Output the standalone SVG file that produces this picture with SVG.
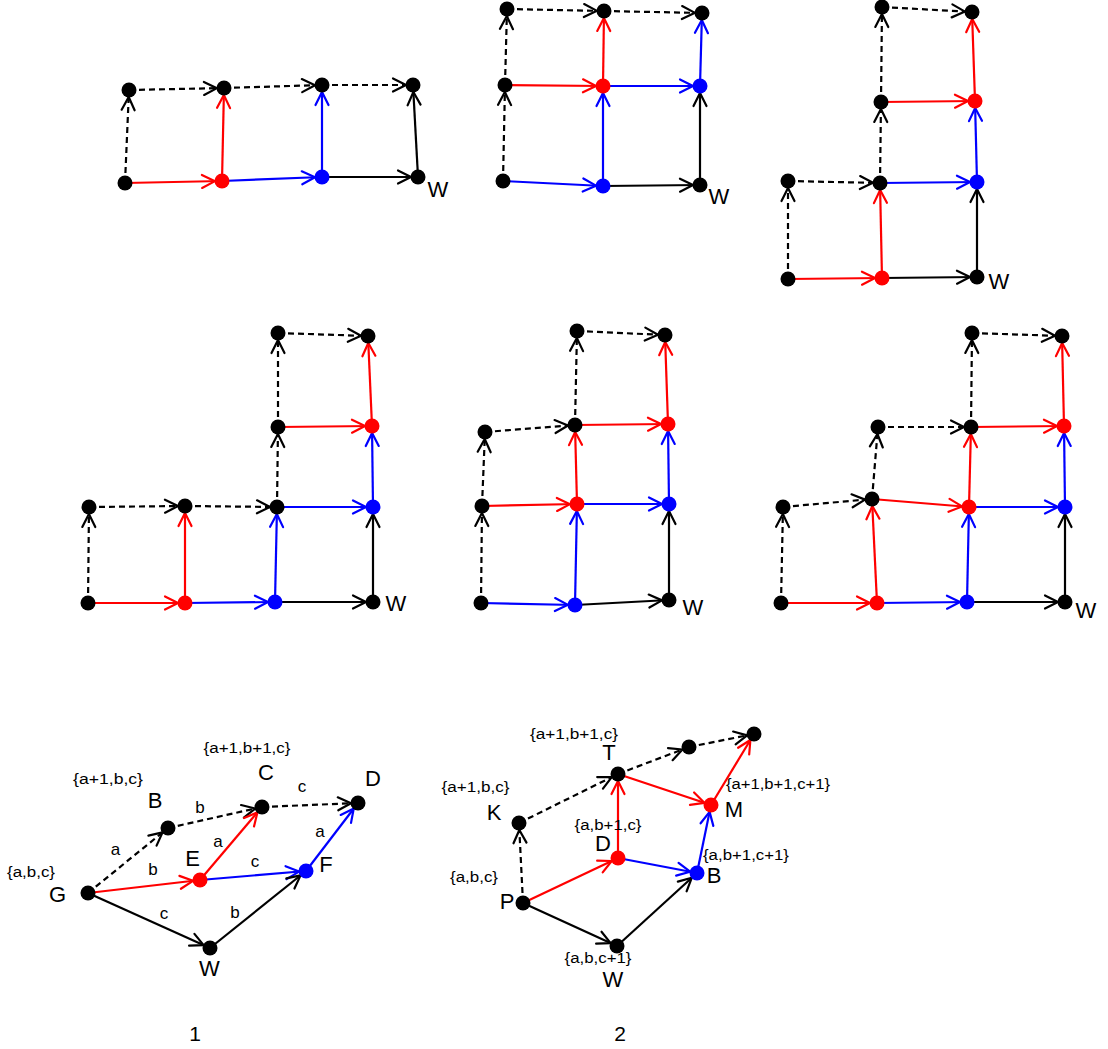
<svg xmlns="http://www.w3.org/2000/svg" width="1108" height="1049" viewBox="0 0 1108 1049">
<style>
text{font-family:"Liberation Sans",Arial,sans-serif;fill:#000;text-anchor:middle}
.lbl{font-size:22px}
.set{font-size:15.5px}
.el{font-size:17px}
.cap{font-size:21px}
line{stroke-width:2.2;fill:none}
.k{stroke:#000;marker-end:url(#ak)}
.kd{stroke:#000;stroke-dasharray:6,4;marker-end:url(#ak)}
.r{stroke:#ff0000;marker-end:url(#ar)}
.b{stroke:#0000ff;marker-end:url(#ab)}
circle{stroke:none}
.nk{fill:#000}
.nr{fill:#ff0000}
.nb{fill:#0000ff}
</style>
<defs>
<marker id="ak" markerUnits="userSpaceOnUse" markerWidth="24" markerHeight="16" refX="20" refY="8" orient="auto" overflow="visible"><path d="M0,1.5 L13,8 L0,14.5" fill="none" stroke="#000" stroke-width="2.2" stroke-dasharray="none" stroke-linecap="round" stroke-linejoin="round"/></marker>
<marker id="ar" markerUnits="userSpaceOnUse" markerWidth="24" markerHeight="16" refX="20" refY="8" orient="auto" overflow="visible"><path d="M0,1.5 L13,8 L0,14.5" fill="none" stroke="#ff0000" stroke-width="2.2" stroke-linecap="round" stroke-linejoin="round"/></marker>
<marker id="ab" markerUnits="userSpaceOnUse" markerWidth="24" markerHeight="16" refX="20" refY="8" orient="auto" overflow="visible"><path d="M0,1.5 L13,8 L0,14.5" fill="none" stroke="#0000ff" stroke-width="2.2" stroke-linecap="round" stroke-linejoin="round"/></marker>
</defs>
<g id="connectors">
<!-- grid 1 -->
<line class="r" x1="125" y1="183" x2="222" y2="181"/>
<line class="b" x1="222" y1="181" x2="322" y2="177"/>
<line class="k" x1="322" y1="177" x2="418" y2="177"/>
<line class="kd" x1="125" y1="183" x2="129" y2="90"/>
<line class="r" x1="222" y1="181" x2="224" y2="88"/>
<line class="b" x1="322" y1="177" x2="322" y2="85"/>
<line class="k" x1="418" y1="177" x2="413" y2="85"/>
<line class="kd" x1="129" y1="90" x2="224" y2="88"/>
<line class="kd" x1="224" y1="88" x2="322" y2="85"/>
<line class="kd" x1="322" y1="85" x2="413" y2="85"/>
<!-- grid 2 -->
<line class="b" x1="503" y1="181" x2="603" y2="186"/>
<line class="k" x1="603" y1="186" x2="700" y2="185"/>
<line class="kd" x1="503" y1="181" x2="505" y2="85"/>
<line class="b" x1="603" y1="186" x2="603" y2="86"/>
<line class="k" x1="700" y1="185" x2="700" y2="86"/>
<line class="r" x1="505" y1="85" x2="603" y2="86"/>
<line class="b" x1="603" y1="86" x2="700" y2="86"/>
<line class="kd" x1="505" y1="85" x2="507" y2="9"/>
<line class="r" x1="603" y1="86" x2="604" y2="11"/>
<line class="b" x1="700" y1="86" x2="702" y2="13"/>
<line class="kd" x1="507" y1="9" x2="604" y2="11"/>
<line class="kd" x1="604" y1="11" x2="702" y2="13"/>
<!-- grid 3 -->
<line class="r" x1="788" y1="279" x2="882" y2="278"/>
<line class="k" x1="882" y1="278" x2="977" y2="277"/>
<line class="kd" x1="788" y1="279" x2="788" y2="181"/>
<line class="r" x1="882" y1="278" x2="880" y2="183"/>
<line class="k" x1="977" y1="277" x2="977" y2="182"/>
<line class="kd" x1="788" y1="181" x2="880" y2="183"/>
<line class="b" x1="880" y1="183" x2="977" y2="182"/>
<line class="kd" x1="880" y1="183" x2="881" y2="102"/>
<line class="b" x1="977" y1="182" x2="975" y2="101"/>
<line class="r" x1="881" y1="102" x2="975" y2="101"/>
<line class="kd" x1="881" y1="102" x2="882" y2="7"/>
<line class="r" x1="975" y1="101" x2="972" y2="12"/>
<line class="kd" x1="882" y1="7" x2="972" y2="12"/>
<!-- grid 4 -->
<line class="r" x1="88" y1="603" x2="185" y2="603"/>
<line class="b" x1="185" y1="603" x2="275" y2="602"/>
<line class="k" x1="275" y1="602" x2="373" y2="602"/>
<line class="kd" x1="88" y1="603" x2="89" y2="507"/>
<line class="r" x1="185" y1="603" x2="185" y2="506"/>
<line class="b" x1="275" y1="602" x2="277" y2="507"/>
<line class="k" x1="373" y1="602" x2="373" y2="507"/>
<line class="kd" x1="89" y1="507" x2="185" y2="506"/>
<line class="kd" x1="185" y1="506" x2="277" y2="507"/>
<line class="b" x1="277" y1="507" x2="373" y2="507"/>
<line class="kd" x1="277" y1="507" x2="278" y2="427"/>
<line class="b" x1="373" y1="507" x2="372" y2="426"/>
<line class="r" x1="278" y1="427" x2="372" y2="426"/>
<line class="kd" x1="278" y1="427" x2="278" y2="333"/>
<line class="r" x1="372" y1="426" x2="368" y2="336"/>
<line class="kd" x1="278" y1="333" x2="368" y2="336"/>
<!-- grid 5 -->
<line class="b" x1="481" y1="603" x2="575" y2="605"/>
<line class="k" x1="575" y1="605" x2="669" y2="600"/>
<line class="kd" x1="481" y1="603" x2="482" y2="506"/>
<line class="b" x1="575" y1="605" x2="577" y2="504"/>
<line class="k" x1="669" y1="600" x2="669" y2="504"/>
<line class="r" x1="482" y1="506" x2="577" y2="504"/>
<line class="b" x1="577" y1="504" x2="669" y2="504"/>
<line class="kd" x1="482" y1="506" x2="485" y2="432"/>
<line class="r" x1="577" y1="504" x2="575" y2="425"/>
<line class="b" x1="669" y1="504" x2="668" y2="424"/>
<line class="kd" x1="485" y1="432" x2="575" y2="425"/>
<line class="r" x1="575" y1="425" x2="668" y2="424"/>
<line class="kd" x1="575" y1="425" x2="577" y2="331"/>
<line class="r" x1="668" y1="424" x2="665" y2="335"/>
<line class="kd" x1="577" y1="331" x2="665" y2="335"/>
<!-- grid 6 -->
<line class="r" x1="781" y1="603" x2="877" y2="603"/>
<line class="b" x1="877" y1="603" x2="967" y2="602"/>
<line class="k" x1="967" y1="602" x2="1065" y2="602"/>
<line class="kd" x1="781" y1="603" x2="783" y2="507"/>
<line class="r" x1="877" y1="603" x2="872" y2="499"/>
<line class="b" x1="967" y1="602" x2="969" y2="507"/>
<line class="k" x1="1065" y1="602" x2="1065" y2="507"/>
<line class="kd" x1="783" y1="507" x2="872" y2="499"/>
<line class="r" x1="872" y1="499" x2="969" y2="507"/>
<line class="b" x1="969" y1="507" x2="1065" y2="507"/>
<line class="kd" x1="872" y1="499" x2="878" y2="427"/>
<line class="r" x1="969" y1="507" x2="971" y2="427"/>
<line class="b" x1="1065" y1="507" x2="1064" y2="426"/>
<line class="kd" x1="878" y1="427" x2="971" y2="427"/>
<line class="r" x1="971" y1="427" x2="1064" y2="426"/>
<line class="kd" x1="971" y1="427" x2="972" y2="333"/>
<line class="r" x1="1064" y1="426" x2="1062" y2="336"/>
<line class="kd" x1="972" y1="333" x2="1062" y2="336"/>
<!-- diagram 1 -->
<line class="kd" x1="88" y1="893" x2="168" y2="828"/>
<line class="kd" x1="168" y1="828" x2="262" y2="807"/>
<line class="kd" x1="262" y1="807" x2="358" y2="803"/>
<line class="r" x1="88" y1="893" x2="200" y2="880"/>
<line class="r" x1="200" y1="880" x2="262" y2="807"/>
<line class="b" x1="200" y1="880" x2="306" y2="871"/>
<line class="b" x1="306" y1="871" x2="358" y2="803"/>
<line class="k" x1="88" y1="893" x2="210" y2="948"/>
<line class="k" x1="210" y1="948" x2="306" y2="871"/>
<!-- diagram 2 -->
<line class="kd" x1="523" y1="903" x2="519" y2="823"/>
<line class="kd" x1="519" y1="823" x2="618" y2="774"/>
<line class="kd" x1="618" y1="774" x2="689" y2="747"/>
<line class="kd" x1="689" y1="747" x2="754" y2="734"/>
<line class="r" x1="523" y1="903" x2="618" y2="858"/>
<line class="r" x1="618" y1="858" x2="618" y2="774"/>
<line class="r" x1="618" y1="774" x2="711" y2="805"/>
<line class="r" x1="711" y1="805" x2="754" y2="734"/>
<line class="b" x1="618" y1="858" x2="697" y2="873"/>
<line class="b" x1="697" y1="873" x2="711" y2="805"/>
<line class="k" x1="523" y1="903" x2="617" y2="946"/>
<line class="k" x1="617" y1="946" x2="697" y2="873"/>
</g>
<g id="edge-labels">
<text class="el" x="115.5" y="855">a</text>
<text class="el" x="200" y="813">b</text>
<text class="el" x="302" y="792">c</text>
<text class="el" x="153" y="875">b</text>
<text class="el" x="218" y="847">a</text>
<text class="el" x="255" y="867">c</text>
<text class="el" x="320" y="837">a</text>
<text class="el" x="164" y="919">c</text>
<text class="el" x="235" y="918">b</text>
</g>
<!-- grid 1 nodes -->
<g id="g1n1"><circle class="nk" cx="125" cy="183" r="7.5"/></g>
<g id="g1n2"><circle class="nr" cx="222" cy="181" r="7.5"/></g>
<g id="g1n3"><circle class="nb" cx="322" cy="177" r="7.5"/></g>
<g id="g1n4"><circle class="nk" cx="418" cy="177" r="7.5"/><text class="lbl" x="438" y="197">W</text></g>
<g id="g1n5"><circle class="nk" cx="129" cy="90" r="7.5"/></g>
<g id="g1n6"><circle class="nk" cx="224" cy="88" r="7.5"/></g>
<g id="g1n7"><circle class="nk" cx="322" cy="85" r="7.5"/></g>
<g id="g1n8"><circle class="nk" cx="413" cy="85" r="7.5"/></g>
<!-- grid 2 nodes -->
<g id="g2n1"><circle class="nk" cx="503" cy="181" r="7.5"/></g>
<g id="g2n2"><circle class="nb" cx="603" cy="186" r="7.5"/></g>
<g id="g2n3"><circle class="nk" cx="700" cy="185" r="7.5"/><text class="lbl" x="719" y="204">W</text></g>
<g id="g2n4"><circle class="nk" cx="505" cy="85" r="7.5"/></g>
<g id="g2n5"><circle class="nr" cx="603" cy="86" r="7.5"/></g>
<g id="g2n6"><circle class="nb" cx="700" cy="86" r="7.5"/></g>
<g id="g2n7"><circle class="nk" cx="507" cy="9" r="7.5"/></g>
<g id="g2n8"><circle class="nk" cx="604" cy="11" r="7.5"/></g>
<g id="g2n9"><circle class="nk" cx="702" cy="13" r="7.5"/></g>
<!-- grid 3 nodes -->
<g id="g3n1"><circle class="nk" cx="788" cy="279" r="7.5"/></g>
<g id="g3n2"><circle class="nr" cx="882" cy="278" r="7.5"/></g>
<g id="g3n3"><circle class="nk" cx="977" cy="277" r="7.5"/><text class="lbl" x="999" y="289">W</text></g>
<g id="g3n4"><circle class="nk" cx="788" cy="181" r="7.5"/></g>
<g id="g3n5"><circle class="nk" cx="880" cy="183" r="7.5"/></g>
<g id="g3n6"><circle class="nb" cx="977" cy="182" r="7.5"/></g>
<g id="g3n7"><circle class="nk" cx="881" cy="102" r="7.5"/></g>
<g id="g3n8"><circle class="nr" cx="975" cy="101" r="7.5"/></g>
<g id="g3n9"><circle class="nk" cx="882" cy="7" r="7.5"/></g>
<g id="g3n10"><circle class="nk" cx="972" cy="12" r="7.5"/></g>
<!-- grid 4 nodes -->
<g id="g4n1"><circle class="nk" cx="88" cy="603" r="7.5"/></g>
<g id="g4n2"><circle class="nr" cx="185" cy="603" r="7.5"/></g>
<g id="g4n3"><circle class="nb" cx="275" cy="602" r="7.5"/></g>
<g id="g4n4"><circle class="nk" cx="373" cy="602" r="7.5"/><text class="lbl" x="396" y="611">W</text></g>
<g id="g4n5"><circle class="nk" cx="89" cy="507" r="7.5"/></g>
<g id="g4n6"><circle class="nk" cx="185" cy="506" r="7.5"/></g>
<g id="g4n7"><circle class="nk" cx="277" cy="507" r="7.5"/></g>
<g id="g4n8"><circle class="nb" cx="373" cy="507" r="7.5"/></g>
<g id="g4n9"><circle class="nk" cx="278" cy="427" r="7.5"/></g>
<g id="g4n10"><circle class="nr" cx="372" cy="426" r="7.5"/></g>
<g id="g4n11"><circle class="nk" cx="278" cy="333" r="7.5"/></g>
<g id="g4n12"><circle class="nk" cx="368" cy="336" r="7.5"/></g>
<!-- grid 5 nodes -->
<g id="g5n1"><circle class="nk" cx="481" cy="603" r="7.5"/></g>
<g id="g5n2"><circle class="nb" cx="575" cy="605" r="7.5"/></g>
<g id="g5n3"><circle class="nk" cx="669" cy="600" r="7.5"/><text class="lbl" x="693" y="615">W</text></g>
<g id="g5n4"><circle class="nk" cx="482" cy="506" r="7.5"/></g>
<g id="g5n5"><circle class="nr" cx="577" cy="504" r="7.5"/></g>
<g id="g5n6"><circle class="nb" cx="669" cy="504" r="7.5"/></g>
<g id="g5n7"><circle class="nk" cx="485" cy="432" r="7.5"/></g>
<g id="g5n8"><circle class="nk" cx="575" cy="425" r="7.5"/></g>
<g id="g5n9"><circle class="nr" cx="668" cy="424" r="7.5"/></g>
<g id="g5n10"><circle class="nk" cx="577" cy="331" r="7.5"/></g>
<g id="g5n11"><circle class="nk" cx="665" cy="335" r="7.5"/></g>
<!-- grid 6 nodes -->
<g id="g6n1"><circle class="nk" cx="781" cy="603" r="7.5"/></g>
<g id="g6n2"><circle class="nr" cx="877" cy="603" r="7.5"/></g>
<g id="g6n3"><circle class="nb" cx="967" cy="602" r="7.5"/></g>
<g id="g6n4"><circle class="nk" cx="1065" cy="602" r="7.5"/><text class="lbl" x="1086" y="618">W</text></g>
<g id="g6n5"><circle class="nk" cx="783" cy="507" r="7.5"/></g>
<g id="g6n6"><circle class="nk" cx="872" cy="499" r="7.5"/></g>
<g id="g6n7"><circle class="nr" cx="969" cy="507" r="7.5"/></g>
<g id="g6n8"><circle class="nb" cx="1065" cy="507" r="7.5"/></g>
<g id="g6n9"><circle class="nk" cx="878" cy="427" r="7.5"/></g>
<g id="g6n10"><circle class="nk" cx="971" cy="427" r="7.5"/></g>
<g id="g6n11"><circle class="nr" cx="1064" cy="426" r="7.5"/></g>
<g id="g6n12"><circle class="nk" cx="972" cy="333" r="7.5"/></g>
<g id="g6n13"><circle class="nk" cx="1062" cy="336" r="7.5"/></g>
<!-- diagram 1 nodes -->
<g id="d1G"><circle class="nk" cx="88" cy="893" r="7.5"/><text class="lbl" x="57.5" y="902">G</text><text class="set" x="31" y="877" textLength="48" lengthAdjust="spacingAndGlyphs">{a,b,c}</text></g>
<g id="d1B"><circle class="nk" cx="168" cy="828" r="7.5"/><text class="lbl" x="155" y="808">B</text><text class="set" x="108" y="784" textLength="70" lengthAdjust="spacingAndGlyphs">{a+1,b,c}</text></g>
<g id="d1C"><circle class="nk" cx="262" cy="807" r="7.5"/><text class="lbl" x="266" y="780">C</text><text class="set" x="247" y="753" textLength="87" lengthAdjust="spacingAndGlyphs">{a+1,b+1,c}</text></g>
<g id="d1D"><circle class="nk" cx="358" cy="803" r="7.5"/><text class="lbl" x="373" y="786">D</text></g>
<g id="d1E"><circle class="nr" cx="200" cy="880" r="7.5"/><text class="lbl" x="192.5" y="866">E</text></g>
<g id="d1F"><circle class="nb" cx="306" cy="871" r="7.5"/><text class="lbl" x="326" y="872">F</text></g>
<g id="d1W"><circle class="nk" cx="210" cy="948" r="7.5"/><text class="lbl" x="209.5" y="976">W</text></g>
<!-- diagram 2 nodes -->
<g id="d2P"><circle class="nk" cx="523" cy="903" r="7.5"/><text class="lbl" x="507" y="909">P</text><text class="set" x="474" y="882" textLength="48" lengthAdjust="spacingAndGlyphs">{a,b,c}</text></g>
<g id="d2K"><circle class="nk" cx="519" cy="823" r="7.5"/><text class="lbl" x="494" y="820">K</text><text class="set" x="475.5" y="792" textLength="68" lengthAdjust="spacingAndGlyphs">{a+1,b,c}</text></g>
<g id="d2T"><circle class="nk" cx="618" cy="774" r="7.5"/><text class="lbl" x="609" y="760">T</text><text class="set" x="574" y="739" textLength="88" lengthAdjust="spacingAndGlyphs">{a+1,b+1,c}</text></g>
<g id="d2U"><circle class="nk" cx="689" cy="747" r="7.5"/></g>
<g id="d2V"><circle class="nk" cx="754" cy="734" r="7.5"/></g>
<g id="d2M"><circle class="nr" cx="711" cy="805" r="7.5"/><text class="lbl" x="734" y="817">M</text><text class="set" x="778" y="789" textLength="104" lengthAdjust="spacingAndGlyphs">{a+1,b+1,c+1}</text></g>
<g id="d2D"><circle class="nr" cx="618" cy="858" r="7.5"/><text class="lbl" x="603" y="851">D</text><text class="set" x="608" y="830" textLength="67" lengthAdjust="spacingAndGlyphs">{a,b+1,c}</text></g>
<g id="d2B"><circle class="nb" cx="697" cy="873" r="7.5"/><text class="lbl" x="714" y="883">B</text><text class="set" x="746" y="860" textLength="86" lengthAdjust="spacingAndGlyphs">{a,b+1,c+1}</text></g>
<g id="d2W"><circle class="nk" cx="617" cy="946" r="7.5"/><text class="lbl" x="613" y="987">W</text><text class="set" x="598" y="963" textLength="67" lengthAdjust="spacingAndGlyphs">{a,b,c+1}</text></g>
<g id="captions">
<text class="cap" x="195" y="1041">1</text>
<text class="cap" x="620" y="1041">2</text>
</g>
</svg>
